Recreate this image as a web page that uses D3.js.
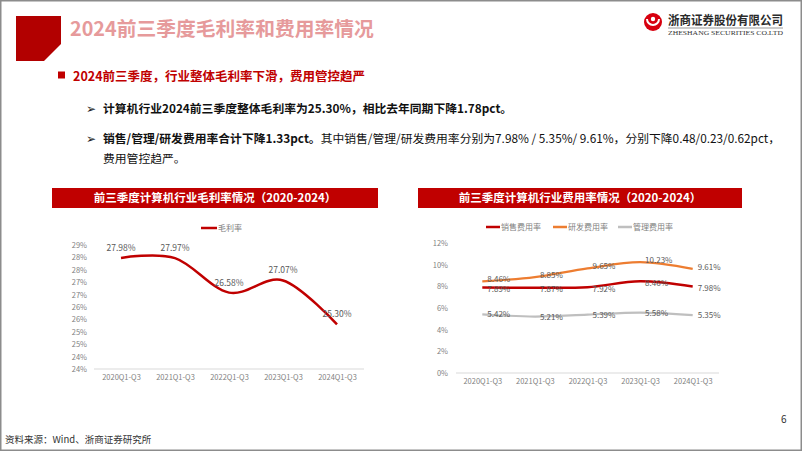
<!DOCTYPE html>
<html><head><meta charset="utf-8">
<script src="https://cdn.jsdelivr.net/npm/d3@7"></script>
<style>
html,body{margin:0;padding:0;background:#fff;}
svg{display:block;font-family:"Microsoft YaHei","Noto Sans CJK SC","Noto Sans",sans-serif;}
</style></head>
<body><svg id="c" width="802" height="451"></svg>
<script>
// ---------- data ----------
const categories = ["2020Q1-Q3","2021Q1-Q3","2022Q1-Q3","2023Q1-Q3","2024Q1-Q3"];
const grossMargin = [27.98, 27.97, 26.58, 27.07, 25.30];
const salesRate = [7.89, 7.87, 7.92, 8.46, 7.98];
const rdRate = [8.46, 8.85, 9.65, 10.23, 9.61];
const adminRate = [5.42, 5.21, 5.39, 5.58, 5.35];
const leftTickValues = [23.5, 24, 24.5, 25, 25.5, 26, 26.5, 27, 27.5, 28, 28.5];
const leftTickLabels = ["24%","24%","25%","25%","26%","26%","27%","27%","28%","28%","29%"];
const rightTickValues = [0, 2, 4, 6, 8, 10, 12];
const rightTickLabels = ["0%","2%","4%","6%","8%","10%","12%"];

const svg = d3.select("#c");
const RED = "#C00000";
svg.append("rect").attr("width",802).attr("height",451).attr("fill","#fff");
svg.append("rect").attr("x",0.75).attr("y",0.75).attr("width",800.5).attr("height",449.5)
  .attr("fill","none").attr("stroke","#8c8c8c").attr("stroke-width",1.5);

// header block
svg.append("path").attr("d","M16,16H61V44L44,61H16Z").attr("fill","#B20000");
svg.append("text").attr("x",70).attr("y",36).attr("font-size",19.8).attr("font-weight","bold")
  .attr("fill","#E69A9B").text("2024前三季度毛利率和费用率情况");

// logo
const lg = svg.append("g");
lg.append("circle").attr("cx",653).attr("cy",22).attr("r",9).attr("fill","#D7000F");
lg.append("path").attr("d","M647,19 A6,6 0 0 0 659,19").attr("fill","none").attr("stroke","#fff").attr("stroke-width",2);
lg.append("circle").attr("cx",653).attr("cy",19).attr("r",2.2).attr("fill","#fff");
lg.append("text").attr("x",668).attr("y",25).attr("font-size",12.5).attr("font-weight","bold")
  .attr("fill","#2b2b2b").attr("textLength",115).attr("lengthAdjust","spacingAndGlyphs").text("浙商证券股份有限公司");
lg.append("line").attr("x1",668).attr("x2",783).attr("y1",28).attr("y2",28).attr("stroke","#555").attr("stroke-width",0.6);
lg.append("text").attr("x",668).attr("y",35).attr("font-size",6.5).attr("font-family","'Liberation Serif',serif")
  .attr("fill","#333").attr("textLength",115).attr("lengthAdjust","spacingAndGlyphs").text("ZHESHANG SECURITIES CO.LTD");

// bullets
svg.append("rect").attr("x",58).attr("y",71.5).attr("width",7).attr("height",7).attr("fill",RED);
svg.append("text").attr("x",73).attr("y",80.5).attr("font-size",12.5).attr("font-weight","bold")
  .attr("fill",RED).text("2024前三季度，行业整体毛利率下滑，费用管控趋严");
const arrow = (y)=>svg.append("text").attr("x",86).attr("y",y).attr("font-size",12)
  .attr("font-family","'DejaVu Sans',sans-serif").attr("fill","#222").text("➢");
arrow(112.5); arrow(142.5);
svg.append("text").attr("x",103).attr("y",112.5).attr("font-size",11.8).attr("font-weight","bold")
  .attr("fill","#111").text("计算机行业2024前三季度整体毛利率为25.30%，相比去年同期下降1.78pct。");
const t3 = svg.append("text").attr("x",103).attr("y",142.5).attr("font-size",11.8).attr("fill","#111");
t3.append("tspan").attr("font-weight","bold").text("销售/管理/研发费用率合计下降1.33pct。");
t3.append("tspan").text("其中销售/管理/研发费用率分别为7.98% / 5.35%/ 9.61%，分别下降0.48/0.23/0.62pct，");
svg.append("text").attr("x",103).attr("y",162.5).attr("font-size",11.8).attr("fill","#111").text("费用管控趋严。");

// footer
svg.append("text").attr("x",5).attr("y",443).attr("font-size",9.5).attr("fill","#333").text("资料来源：Wind、浙商证券研究所");
svg.append("text").attr("x",781).attr("y",423).attr("font-size",10).attr("fill","#333").text("6");

// ---------- chart title bars ----------
function titleBar(x0,x1,txt){
  svg.append("rect").attr("x",x0).attr("y",188).attr("width",x1-x0).attr("height",20).attr("fill",RED);
  svg.append("text").attr("x",(x0+x1)/2).attr("y",202).attr("text-anchor","middle").attr("font-size",11.5)
    .attr("font-weight","bold").attr("fill","#fff").text(txt);
}
titleBar(52,378,"前三季度计算机行业毛利率情况（2020-2024）");
titleBar(418,742,"前三季度计算机行业费用率情况（2020-2024）");

const AX = "#7f7f7f", LB = "#595959";
function styleAxis(g){
  g.select(".domain").remove();
  g.selectAll("text").attr("fill",AX).attr("font-size",7.5).attr("font-family","'Microsoft YaHei','Noto Sans CJK SC',sans-serif");
}

// ---------- left chart ----------
const xL = d3.scalePoint().domain(categories).range([94,364]).padding(0.5);
const yL = d3.scaleLinear().domain([23.5,28.5]).range([369,245]);
svg.append("g").attr("transform","translate(94,0)")
  .call(d3.axisLeft(yL).tickValues(leftTickValues).tickFormat((d,i)=>leftTickLabels[i]).tickSize(0).tickPadding(7))
  .call(styleAxis);
svg.append("line").attr("x1",94).attr("x2",364).attr("y1",369).attr("y2",369).attr("stroke","#d9d9d9");
svg.append("g").attr("transform","translate(0,369)")
  .call(d3.axisBottom(xL).tickSize(0).tickPadding(6)).call(styleAxis);
const lineL = d3.line().x((d,i)=>xL(categories[i])).y(d=>yL(d)).curve(d3.curveCatmullRom.alpha(0));
svg.append("path").datum(grossMargin).attr("d",lineL).attr("fill","none").attr("stroke",RED).attr("stroke-width",2.5);
svg.append("g").selectAll("text").data(grossMargin).join("text")
  .attr("x",(d,i)=>xL(categories[i])).attr("y",d=>yL(d)-7).attr("text-anchor","middle")
  .attr("font-size",8.5).attr("fill",LB).text(d=>d.toFixed(2)+"%");
// legend
svg.append("line").attr("x1",201).attr("x2",217).attr("y1",228).attr("y2",228).attr("stroke",RED).attr("stroke-width",2.5);
svg.append("text").attr("x",218).attr("y",231).attr("font-size",8).attr("fill",AX).text("毛利率");

// ---------- right chart ----------
const xR = d3.scalePoint().domain(categories).range([456,719]).padding(0.5);
const yR = d3.scaleLinear().domain([0,12]).range([373,243]);
svg.append("g").attr("transform","translate(456,0)")
  .call(d3.axisLeft(yR).tickValues(rightTickValues).tickFormat((d,i)=>rightTickLabels[i]).tickSize(0).tickPadding(8))
  .call(styleAxis);
svg.append("line").attr("x1",456).attr("x2",719).attr("y1",373).attr("y2",373).attr("stroke","#d9d9d9");
svg.append("g").attr("transform","translate(0,373)")
  .call(d3.axisBottom(xR).tickSize(0).tickPadding(6)).call(styleAxis);
const series = [
  {name:"销售费用率", values:salesRate, color:RED, w:2.5, dy:4.5},
  {name:"研发费用率", values:rdRate, color:"#ED7D31", w:2.2, dy:1},
  {name:"管理费用率", values:adminRate, color:"#BFBFBF", w:2.2, dy:3}
];
const lineR = d3.line().x((d,i)=>xR(categories[i])).y(d=>yR(d)).curve(d3.curveCatmullRom.alpha(0));
[series[2],series[1],series[0]].forEach(s=>{
  svg.append("path").datum(s.values).attr("d",lineR).attr("fill","none").attr("stroke",s.color).attr("stroke-width",s.w);
});
series.forEach(s=>{
  svg.append("g").selectAll("text").data(s.values).join("text")
    .attr("x",(d,i)=>xR(categories[i])+5).attr("y",d=>yR(d)+s.dy)
    .attr("font-size",8).attr("fill",LB).text(d=>d.toFixed(2)+"%");
});
// legend
const legX = [486,553,618];
series.forEach((s,i)=>{
  svg.append("line").attr("x1",legX[i]).attr("x2",legX[i]+14).attr("y1",227).attr("y2",227).attr("stroke",s.color).attr("stroke-width",2.5);
  svg.append("text").attr("x",legX[i]+15).attr("y",230).attr("font-size",8).attr("fill",AX).text(s.name);
});
</script></body></html>
